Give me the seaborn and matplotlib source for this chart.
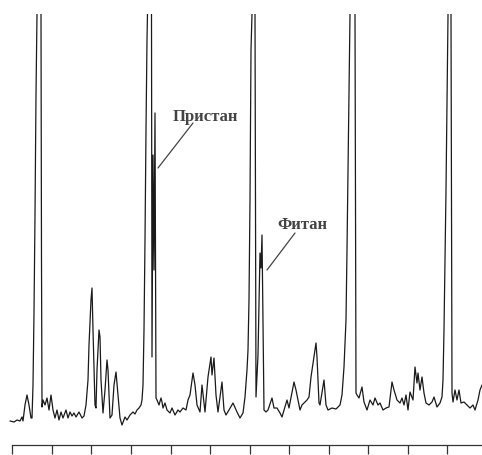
import matplotlib
matplotlib.use("Agg")
import matplotlib.pyplot as plt
import seaborn as sns
import pandas as pd

# Chromatogram trace: retention position and detector response
retention = [
    10, 14, 17, 20, 22, 23, 25, 27, 29, 31, 32, 33, 34, 35, 36, 37, 39, 41, 41.5, 42,
    43, 45, 47, 49, 51, 53, 55, 57, 59, 61, 63, 66, 68, 70, 72, 74, 76, 79, 82, 84,
    86, 88, 89, 91, 92, 93, 95, 96, 97, 99, 100, 101, 103, 105, 107, 108, 110, 112, 114, 116,
    118, 120, 122, 125, 127, 130, 133, 135, 137, 139, 141, 142, 143, 144, 145, 146, 147, 147.5, 149.5, 151.5,
    152, 153, 154, 155, 156, 157, 159, 161, 162, 163, 165, 167, 170, 172, 175, 178, 180, 183, 186, 188,
    190, 193, 195, 197, 200, 202, 205, 208, 211, 212, 214, 216, 218, 222, 224, 226, 229, 233, 237, 240,
    243, 245, 247, 248, 249, 250, 251, 252, 253.5, 255, 256, 258, 260, 261, 262, 264, 266, 268, 272, 274,
    277, 280, 282, 287, 289, 294, 296, 298, 300, 302, 307, 309, 311, 316, 317, 319, 320, 324, 326, 328,
    332, 336, 340, 342, 344, 346, 347, 348, 349, 350, 352.5, 355, 356, 357, 359, 362, 364, 367, 370, 373,
    375, 378, 380, 383, 386, 389, 392, 394, 397, 400, 402, 404, 406, 408, 410, 413, 415, 417, 418, 420,
    422, 424, 426, 429, 432, 434, 437, 440, 442, 443, 444, 445, 446, 447, 448, 449.5, 451, 452, 453, 455,
    457, 459, 461, 464, 467, 470, 473, 475, 478, 480, 482,
]
response = [
    24, 23, 25, 24, 28, 24, 40, 50, 40, 27, 27, 60, 132, 230, 350, 431, 525, 431, 183, 38,
    45, 40, 47, 35, 50, 35, 27, 35, 25, 33, 27, 35, 27, 33, 29, 32, 28, 33, 27, 29,
    40, 65, 100, 145, 157, 115, 40, 37, 75, 115, 108, 65, 32, 55, 85, 75, 27, 30, 60, 73,
    50, 27, 20, 28, 25, 30, 33, 31, 35, 37, 40, 45, 60, 115, 205, 315, 405, 431, 545, 431,
    88, 290, 175, 332, 47, 45, 40, 47, 43, 37, 42, 35, 32, 37, 30, 35, 33, 37, 35, 45,
    50, 72, 60, 40, 33, 60, 33, 68, 88, 70, 87, 50, 33, 63, 35, 30, 35, 42, 33, 27,
    32, 48, 75, 95, 145, 245, 395, 431, 545, 431, 48, 90, 192, 177, 210, 35, 33, 35, 47, 37,
    37, 32, 28, 45, 37, 63, 55, 45, 35, 40, 45, 48, 68, 102, 88, 42, 40, 65, 40, 35,
    37, 36, 40, 50, 78, 125, 195, 275, 355, 431, 545, 431, 52, 50, 47, 58, 43, 35, 45, 40,
    47, 40, 42, 35, 37, 38, 63, 55, 45, 42, 47, 40, 50, 35, 53, 45, 78, 62, 72, 55,
    68, 52, 42, 40, 43, 48, 38, 42, 48, 65, 115, 185, 255, 340, 431, 545, 431, 52, 43, 55,
    45, 55, 42, 43, 40, 37, 40, 35, 45, 55, 60,
]

# Time-axis tick positions (unlabelled)
axis_ticks = [12, 51.5, 91, 131, 170.5, 210, 249.5, 289, 328.5, 368, 407.5, 447]

# Peak annotations: label, label anchor, leader-line tip
labels = ["Пристан", "Фитан"]
label_pos = [(205, 328), (302, 220)]
leader_start = [(193, 322), (295, 212)]
leader_end = [(158, 277), (267, 175)]

sns.set_style("white")
plt.rcParams["font.family"] = ["Liberation Serif", "DejaVu Serif"]

df = pd.DataFrame({"t": retention, "signal": response})

fig = plt.figure(figsize=(4.82, 4.55), dpi=100)
ax = fig.add_axes([0, 0, 1, (455 - 14) / 455])

sns.lineplot(data=df, x="t", y="signal", sort=False, estimator=None,
             color="#1a1a1a", linewidth=0.9, ax=ax)

ax.set_xlim(0, 482)
ax.set_ylim(-10, 431)

for side in ("left", "top", "right"):
    ax.spines[side].set_visible(False)
ax.spines["bottom"].set_position(("data", 0))
ax.spines["bottom"].set_bounds(12, 482)
ax.spines["bottom"].set_color("#333333")
ax.spines["bottom"].set_linewidth(0.9)

ax.set_xticks(axis_ticks)
ax.set_xticklabels([])
ax.set_yticks([])
ax.tick_params(axis="x", direction="out", length=6.5, width=0.9,
               color="#333333", bottom=True)
ax.set_xlabel("")
ax.set_ylabel("")

for text, pos, p0, p1 in zip(labels, label_pos, leader_start, leader_end):
    ax.text(pos[0], pos[1], text, ha="center", va="center", fontsize=12,
            fontweight="bold", color="#444444")
    ax.plot([p0[0], p1[0]], [p0[1], p1[1]], color="#444444", linewidth=0.9)

fig.savefig("out.png", dpi=100)
